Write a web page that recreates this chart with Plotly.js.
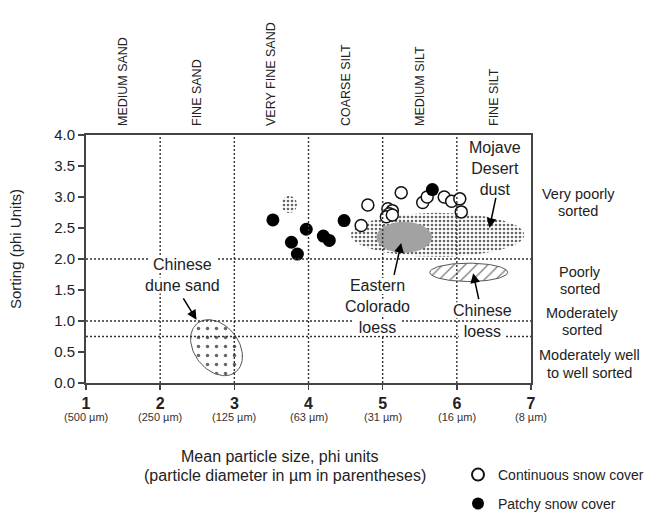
<!DOCTYPE html>
<html>
<head>
<meta charset="utf-8">
<script src="https://cdn.plot.ly/plotly-3.0.1.min.js"></script>
<style>html,body{margin:0;padding:0;background:#fff;}#chart{width:652px;height:512px;}</style>
</head>
<body>
<div id="chart"></div>
<script>
// ---------------- data ----------------
const phiTicks = [1, 2, 3, 4, 5, 6, 7];
const phiTickLabels = ['1', '2', '3', '4', '5', '6', '7'];
const micronLabels = ['(500 µm)', '(250 µm)', '(125 µm)', '(63 µm)', '(31 µm)', '(16 µm)', '(8 µm)'];
const sizeClassNames = ['MEDIUM SAND', 'FINE SAND', 'VERY FINE SAND', 'COARSE SILT', 'MEDIUM SILT', 'FINE SILT'];
const sizeClassPhi = [1.5, 2.5, 3.5, 4.5, 5.5, 6.5];
const sortingTicks = [0, 0.5, 1.0, 1.5, 2.0, 2.5, 3.0, 3.5, 4.0];
const sortingTickLabels = ['0.0', '0.5', '1.0', '1.5', '2.0', '2.5', '3.0', '3.5', '4.0'];
const sortingClassLines = [['Very poorly', 'sorted'], ['Poorly', 'sorted'], ['Moderately', 'sorted'], ['Moderately well', 'to well sorted']];
const phiBoundaries = [2, 3, 4, 5, 6];
const sortingBoundaries = [2.0, 1.0, 0.75];

const continuousPhi = [4.80, 4.71, 5.25, 5.07, 5.13, 5.09, 5.05, 5.13, 5.54, 5.60, 5.83, 5.93, 6.04, 6.06];
const continuousSorting = [2.87, 2.54, 3.07, 2.81, 2.78, 2.73, 2.68, 2.71, 2.91, 3.00, 3.00, 2.93, 2.97, 2.76];
const patchyPhi = [3.52, 3.97, 3.77, 3.85, 4.20, 4.28, 4.48, 5.67];
const patchySorting = [2.63, 2.48, 2.27, 2.08, 2.37, 2.30, 2.62, 3.12];

// source regions (ellipses): centre, half-extent along phi and sorting, tilt (deg)
const regionNames = ['Mojave Desert dust', 'small dust patch', 'Eastern Colorado loess', 'Chinese loess', 'Chinese dune sand'];
const regionPhi = [5.74, 3.74, 5.29, 6.16, 2.76];
const regionSorting = [2.39, 2.88, 2.35, 1.785, 0.57];
const regionHalfPhi = [1.17, 0.105, 0.375, 0.525, 0.30];
const regionHalfSorting = [0.355, 0.14, 0.25, 0.148, 0.50];
const regionTilt = [0, 0, 0, 0, 38];

// ---------------- layout geometry ----------------
const W = 652, H = 512;
const M = {l: 86, r: 121, t: 135, b: 129, autoexpand: false};
const plotW = W - M.l - M.r, plotH = H - M.t - M.b;
const pxPerPhi = plotW / 6, pxPerSort = plotH / 4;
const px2paperX = px => (px - M.l) / plotW;
const px2paperY = py => (H - M.b - py) / plotH;
const FONT = 'Liberation Sans, Arial, Helvetica, sans-serif';
const INK = '#222';
const LABEL_SIZE = 16;
const LINE_H = LABEL_SIZE * 1.3;

const measureCtx = document.createElement('canvas').getContext('2d');
function textWidth(t, size) {
  measureCtx.font = size + 'px "Liberation Sans", Arial, sans-serif';
  return measureCtx.measureText(t).width;
}

function ellipse(i) {
  const xs = [], ys = [];
  const th = regionTilt[i] * Math.PI / 180;
  for (let k = 0; k <= 90; k++) {
    const t = 2 * Math.PI * k / 90;
    const lx = regionHalfPhi[i] * pxPerPhi * Math.cos(t);
    const ly = regionHalfSorting[i] * pxPerSort * Math.sin(t);
    const rx = lx * Math.cos(th) - ly * Math.sin(th);
    const ry = lx * Math.sin(th) + ly * Math.cos(th);
    xs.push(regionPhi[i] + rx / pxPerPhi);
    ys.push(regionSorting[i] + ry / pxPerSort);
  }
  return {x: xs, y: ys};
}

const regionStyles = [
  {line: {width: 0}, fillpattern: {shape: '.', size: 4, solidity: 0.35, fgcolor: '#666', bgcolor: 'rgba(255,255,255,0)'}},
  {line: {width: 0}, fillpattern: {shape: '.', size: 4, solidity: 0.35, fgcolor: '#666', bgcolor: 'rgba(255,255,255,0)'}},
  {line: {width: 0}, fillcolor: '#a2a2a2'},
  {line: {width: 1, color: '#555'}, fillpattern: {shape: '/', size: 8, solidity: 0.15, fgcolor: '#777', bgcolor: '#fff'}},
  {line: {width: 1, color: '#555'}, fillpattern: {shape: '.', size: 9, solidity: 0.12, fgcolor: '#666', bgcolor: '#fff'}}
];

const traces = [];
regionNames.forEach((nm, i) => {
  const e = ellipse(i);
  traces.push(Object.assign({
    type: 'scatter', mode: 'lines', x: e.x, y: e.y, fill: 'toself', name: nm,
    showlegend: false, hoverinfo: 'skip', xaxis: 'x', yaxis: 'y'
  }, regionStyles[i]));
});

traces.push({
  type: 'scatter', mode: 'markers', x: continuousPhi, y: continuousSorting,
  name: 'Continuous snow cover', legend: 'legend',
  marker: {symbol: 'circle', size: 12, color: '#fff', line: {color: '#111', width: 1.5}},
  cliponaxis: false
});
traces.push({
  type: 'scatter', mode: 'markers', x: patchyPhi, y: patchySorting,
  name: 'Patchy snow cover', legend: 'legend2',
  marker: {symbol: 'circle', size: 13, color: '#000', line: {width: 0}},
  cliponaxis: false
});
// dummy trace to activate the top axis
traces.push({type: 'scatter', mode: 'markers', x: [1], y: [0], xaxis: 'x2', yaxis: 'y',
  marker: {opacity: 0}, showlegend: false, hoverinfo: 'skip'});

// ---------------- shapes ----------------
const shapes = [];
const dashLine = {color: '#333', width: 1.4, dash: '2px,2px'};
phiBoundaries.forEach(p => shapes.push({type: 'line', xref: 'x', yref: 'y', x0: p, x1: p, y0: 0, y1: 4, line: dashLine}));
sortingBoundaries.forEach(s => shapes.push({type: 'line', xref: 'x', yref: 'y', x0: 1, x1: 7, y0: s, y1: s, line: dashLine}));

// ---------------- annotations ----------------
const ann = [];
// micron labels under phi ticks
phiTicks.forEach((p, i) => ann.push({
  xref: 'x', yref: 'paper', x: p, y: px2paperY(417), text: micronLabels[i], showarrow: false,
  font: {family: FONT, size: 11, color: '#333'}, xanchor: 'center', yanchor: 'middle'
}));
// sorting class labels on the right
const sortLabelPos = [[578, 194, 211], [580, 272, 289], [582, 313, 330], [589, 355, 373]];
sortingClassLines.forEach((lines, i) => {
  lines.forEach((t, j) => ann.push({
    xref: 'paper', yref: 'paper', x: px2paperX(sortLabelPos[i][0]), y: px2paperY(sortLabelPos[i][1 + j]),
    text: t, showarrow: false, font: {family: FONT, size: 14.5, color: INK}, xanchor: 'center', yanchor: 'middle'
  }));
});
// region labels: one multi-line annotation each, white knock-out rectangles behind (hide dashed lines)
const regionLabels = [
  {lines: ['Mojave', 'Desert', 'dust'], x: 6.52, y: 3.46, knock: false},
  {lines: ['Chinese', 'dune sand'], x: 2.30, y: 1.74, knock: true},
  {lines: ['Eastern', 'Colorado', 'loess'], x: 4.93, y: 1.23, knock: true},
  {lines: ['Chinese', 'loess'], x: 6.345, y: 1.005, knock: true}
];
regionLabels.forEach(L => {
  const n = L.lines.length;
  if (L.knock) {
    L.lines.forEach((t, j) => {
      const cy = L.y + ((n - 1) / 2 - j) * LINE_H / pxPerSort;
      const hw = (textWidth(t, LABEL_SIZE) / 2 + 5) / pxPerPhi;
      const hh = 8 / pxPerSort;
      shapes.push({type: 'rect', xref: 'x', yref: 'y', x0: L.x - hw, x1: L.x + hw,
        y0: cy - hh, y1: cy + hh, fillcolor: '#fff', line: {width: 0}});
    });
  }
  ann.push({
    xref: 'x', yref: 'y', x: L.x, y: L.y, text: L.lines.join('<br>'), showarrow: false, align: 'center',
    font: {family: FONT, size: LABEL_SIZE, color: INK}, xanchor: 'center', yanchor: 'middle'
  });
});
// arrows
function arrow(x, y, ax, ay) {
  ann.push({xref: 'x', yref: 'y', axref: 'x', ayref: 'y', x: x, y: y, ax: ax, ay: ay, text: '',
    showarrow: true, arrowhead: 2, arrowsize: 1.3, arrowwidth: 1.5, arrowcolor: '#000'});
}
arrow(6.44, 2.50, 6.53, 3.01);
arrow(5.25, 2.26, 5.15, 1.72);
arrow(6.22, 1.77, 6.30, 1.33);
arrow(2.49, 1.02, 2.30, 1.39);
// axis titles
ann.push({xref: 'paper', yref: 'paper', x: px2paperX(279), y: px2paperY(456), text: 'Mean particle size, phi units',
  showarrow: false, font: {family: FONT, size: 16, color: INK}, xanchor: 'center', yanchor: 'middle'});
ann.push({xref: 'paper', yref: 'paper', x: px2paperX(285), y: px2paperY(475), text: '(particle diameter in µm in parentheses)',
  showarrow: false, font: {family: FONT, size: 16, color: INK}, xanchor: 'center', yanchor: 'middle'});
ann.push({xref: 'paper', yref: 'paper', x: px2paperX(15), y: px2paperY(249), text: 'Sorting (phi Units)', textangle: -90,
  showarrow: false, font: {family: FONT, size: 15, color: INK}, xanchor: 'center', yanchor: 'middle'});

const axisLine = {showline: true, linecolor: '#444', linewidth: 2, mirror: true, showgrid: false, zeroline: false};

const layout = {
  width: W, height: H, margin: M, paper_bgcolor: '#fff', plot_bgcolor: '#fff',
  font: {family: FONT, color: INK},
  xaxis: Object.assign({
    range: [1, 7], tickmode: 'array', tickvals: phiTicks, ticktext: phiTickLabels.map(t => '<b>' + t + '</b>'),
    ticks: 'outside', ticklen: 5, tickwidth: 1.5, tickcolor: '#444',
    tickfont: {family: FONT, size: 16, color: INK}
  }, axisLine),
  xaxis2: {
    overlaying: 'x', side: 'top', range: [1, 7], tickmode: 'array', tickvals: sizeClassPhi, ticktext: sizeClassNames,
    tickangle: -90, ticks: '', showline: false, showgrid: false, zeroline: false, ticklabelstandoff: 8,
    tickfont: {family: FONT, size: 12.5, color: INK}
  },
  yaxis: Object.assign({
    range: [0, 4], tickmode: 'array', tickvals: sortingTicks, ticktext: sortingTickLabels,
    ticks: 'outside', ticklen: 6, tickwidth: 1.5, tickcolor: '#444',
    tickfont: {family: FONT, size: 15, color: INK}
  }, axisLine),
  shapes: shapes,
  annotations: ann,
  showlegend: true,
  legend: {x: px2paperX(458), y: px2paperY(475), xanchor: 'left', yanchor: 'middle', bgcolor: 'rgba(0,0,0,0)',
    font: {family: FONT, size: 14, color: INK}, itemsizing: 'constant'},
  legend2: {x: px2paperX(458), y: px2paperY(504), xanchor: 'left', yanchor: 'middle', bgcolor: 'rgba(0,0,0,0)',
    font: {family: FONT, size: 14, color: INK}, itemsizing: 'constant'}
};

Plotly.newPlot('chart', traces, layout, {staticPlot: true, displayModeBar: false});
</script>
</body>
</html>
